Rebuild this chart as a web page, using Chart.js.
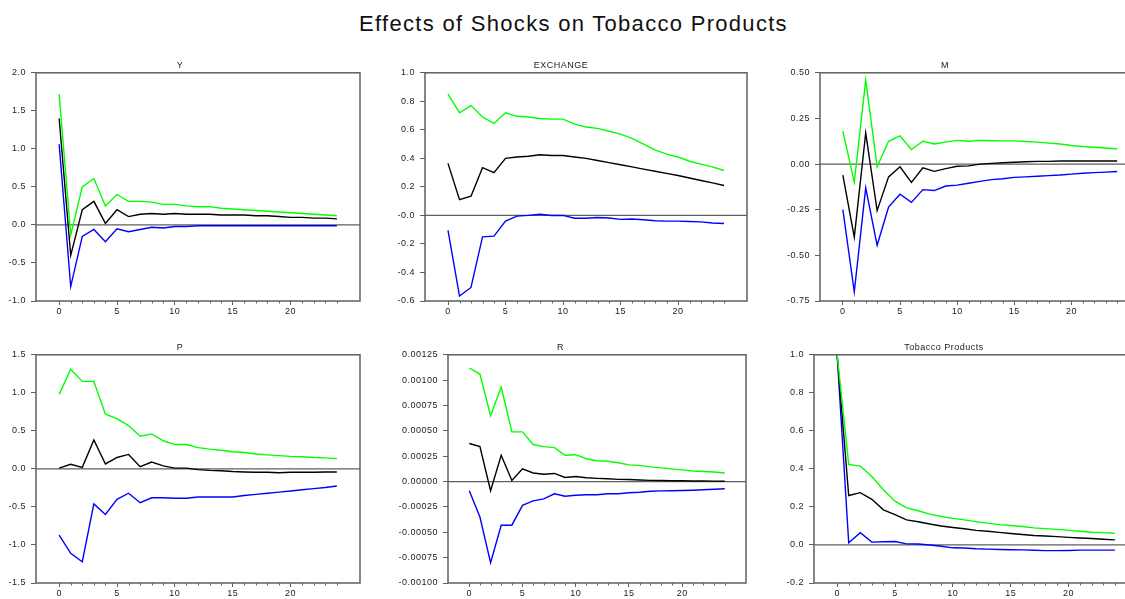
<!DOCTYPE html>
<html lang="en">
<head>
<meta charset="UTF-8">
<title>Effects of Shocks on Tobacco Products</title>
<script src="https://cdn.jsdelivr.net/npm/chart.js"></script>
<style>
  body { margin: 0; width: 1125px; height: 599px; overflow: hidden; background: #fff; position: relative; font-family: "Liberation Sans", Arial, sans-serif; }
  #title { position: absolute; left: 11px; width: 1125px; top: 13px; line-height: 22px; text-align: center; font-size: 22px; letter-spacing: 1.3px; color: #111; }
  canvas { position: absolute; }
</style>
</head>
<body>
<div id="title">Effects of Shocks on Tobacco Products</div>
<canvas id="c0"></canvas>
<canvas id="c1"></canvas>
<canvas id="c2"></canvas>
<canvas id="c3"></canvas>
<canvas id="c4"></canvas>
<canvas id="c5"></canvas>
<script>
// horizon (steps after the shock)
const periods = [0,1,2,3,4,5,6,7,8,9,10,11,12,13,14,15,16,17,18,19,20,21,22,23,24];
const xTicks = [0, 5, 10, 15, 20];

// Y
const yUpper = [1.72,-0.13,0.50,0.61,0.25,0.40,0.31,0.31,0.30,0.27,0.27,0.25,0.24,0.24,0.22,0.21,0.20,0.19,0.18,0.17,0.16,0.15,0.14,0.13,0.12];
const yResp  = [1.40,-0.40,0.20,0.31,0.02,0.20,0.11,0.14,0.15,0.14,0.15,0.14,0.14,0.14,0.13,0.13,0.13,0.12,0.12,0.11,0.10,0.10,0.09,0.09,0.08];
const yLower = [1.06,-0.81,-0.15,-0.06,-0.22,-0.05,-0.09,-0.06,-0.03,-0.04,-0.02,-0.02,-0.01,-0.01,-0.01,-0.01,-0.01,-0.01,-0.01,-0.01,-0.01,-0.01,-0.01,-0.01,-0.01];
const yTicksY  = [-1, -0.5, 0, 0.5, 1, 1.5, 2];
const yLabelsY = ['-1.0','-0.5','0.0','0.5','1.0','1.5','2.0'];

// EXCHANGE
const exUpper = [0.85,0.72,0.77,0.69,0.645,0.72,0.695,0.69,0.68,0.675,0.675,0.64,0.62,0.61,0.59,0.57,0.54,0.50,0.46,0.43,0.41,0.38,0.36,0.34,0.315];
const exResp  = [0.365,0.11,0.135,0.335,0.30,0.40,0.41,0.415,0.425,0.42,0.42,0.41,0.40,0.385,0.37,0.355,0.34,0.325,0.31,0.295,0.28,0.262,0.245,0.228,0.21];
const exLower = [-0.105,-0.565,-0.505,-0.15,-0.145,-0.04,-0.005,0.0,0.008,0.0,0.0,-0.02,-0.02,-0.015,-0.018,-0.028,-0.025,-0.03,-0.037,-0.04,-0.04,-0.043,-0.045,-0.053,-0.057];
const yTicksEx  = [-0.6, -0.4, -0.2, 0, 0.2, 0.4, 0.6, 0.8, 1.0];
const yLabelsEx = ['-0.6','-0.4','-0.2','-0.0','0.2','0.4','0.6','0.8','1.0'];

// M
const mUpper = [0.18,-0.10,0.46,-0.015,0.125,0.155,0.08,0.125,0.11,0.12,0.13,0.125,0.13,0.128,0.127,0.127,0.124,0.12,0.115,0.11,0.102,0.096,0.092,0.088,0.083];
const mResp  = [-0.06,-0.40,0.17,-0.255,-0.07,-0.015,-0.10,-0.02,-0.04,-0.025,-0.012,-0.01,0.0,0.004,0.007,0.01,0.013,0.015,0.015,0.017,0.017,0.017,0.017,0.017,0.017];
const mLower = [-0.25,-0.70,-0.13,-0.445,-0.235,-0.165,-0.21,-0.14,-0.145,-0.12,-0.115,-0.105,-0.095,-0.085,-0.08,-0.073,-0.07,-0.067,-0.063,-0.06,-0.055,-0.05,-0.047,-0.044,-0.041];
const yTicksM  = [-0.75, -0.5, -0.25, 0, 0.25, 0.5];
const yLabelsM = ['-0.75','-0.50','-0.25','0.00','0.25','0.50'];

// P
const pUpper = [0.98,1.31,1.15,1.15,0.72,0.66,0.57,0.43,0.46,0.37,0.32,0.32,0.28,0.26,0.245,0.225,0.215,0.195,0.185,0.175,0.165,0.16,0.15,0.145,0.135];
const pResp  = [0.01,0.06,0.02,0.38,0.065,0.15,0.19,0.03,0.09,0.04,0.01,0.01,-0.01,-0.02,-0.025,-0.035,-0.04,-0.045,-0.045,-0.05,-0.045,-0.045,-0.045,-0.04,-0.04];
const pLower = [-0.87,-1.11,-1.22,-0.46,-0.60,-0.40,-0.32,-0.445,-0.38,-0.38,-0.385,-0.385,-0.37,-0.37,-0.37,-0.37,-0.35,-0.335,-0.32,-0.305,-0.29,-0.275,-0.26,-0.245,-0.225];
const yTicksP  = [-1.5, -1, -0.5, 0, 0.5, 1, 1.5];
const yLabelsP = ['-1.5','-1.0','-0.5','0.0','0.5','1.0','1.5'];

// R
const rUpper = [0.00112,0.00106,0.00065,0.00093,0.00049,0.00049,0.000365,0.000345,0.000335,0.00026,0.000265,0.000225,0.000205,0.0002,0.000185,0.000165,0.00016,0.000145,0.000135,0.000125,0.000115,0.000105,0.0001,0.000095,0.000085];
const rResp  = [0.000375,0.000345,-0.00009,0.00026,0.00001,0.000125,0.000085,0.000072,0.00008,0.00004,0.00005,0.000038,0.000032,0.000028,0.000022,0.00002,0.000016,0.000012,0.00001,0.000008,0.000008,0.000006,0.000005,0.000004,0.000003];
const rLower = [-0.00009,-0.00035,-0.0008,-0.00043,-0.00043,-0.000235,-0.00019,-0.00017,-0.00012,-0.000145,-0.000135,-0.00013,-0.00013,-0.00012,-0.00012,-0.00011,-0.000105,-0.000095,-0.000092,-0.00009,-0.000088,-0.000085,-0.00008,-0.000075,-0.00007];
const yTicksR  = [-0.001, -0.00075, -0.0005, -0.00025, 0, 0.00025, 0.0005, 0.00075, 0.001, 0.00125];
const yLabelsR = ['-0.00100','-0.00075','-0.00050','-0.00025','0.00000','0.00025','0.00050','0.00075','0.00100','0.00125'];

// Tobacco Products
const tobUpper = [1.0,0.424,0.415,0.36,0.29,0.23,0.195,0.18,0.162,0.15,0.14,0.132,0.123,0.115,0.107,0.102,0.097,0.09,0.086,0.082,0.077,0.072,0.067,0.065,0.062];
const tobResp  = [1.0,0.26,0.275,0.24,0.185,0.16,0.132,0.122,0.11,0.10,0.092,0.085,0.077,0.072,0.066,0.06,0.055,0.05,0.047,0.044,0.04,0.037,0.034,0.03,0.027];
const tobLower = [1.0,0.012,0.065,0.015,0.017,0.018,0.006,0.005,0.0,-0.007,-0.015,-0.016,-0.02,-0.022,-0.024,-0.025,-0.026,-0.028,-0.03,-0.03,-0.029,-0.027,-0.027,-0.027,-0.027];
const yTicksTob  = [-0.2, 0, 0.2, 0.4, 0.6, 0.8, 1.0];
const yLabelsTob = ['-0.2','0.0','0.2','0.4','0.6','0.8','1.0'];

const panels = [
  { name: 'Y', upper: yUpper, resp: yResp, lower: yLower, ticks: yTicksY, labels: yLabelsY },
  { name: 'EXCHANGE', upper: exUpper, resp: exResp, lower: exLower, ticks: yTicksEx, labels: yLabelsEx },
  { name: 'M', upper: mUpper, resp: mResp, lower: mLower, ticks: yTicksM, labels: yLabelsM },
  { name: 'P', upper: pUpper, resp: pResp, lower: pLower, ticks: yTicksP, labels: yLabelsP },
  { name: 'R', upper: rUpper, resp: rResp, lower: rLower, ticks: yTicksR, labels: yLabelsR },
  { name: 'Tobacco Products', upper: tobUpper, resp: tobResp, lower: tobLower, ticks: yTicksTob, labels: yLabelsTob }
];

// where each canvas sits on the page
const boxes = [
  { left: 0,   top: 58,  w: 375, h: 263, axisW: 36, padR: 15, xh: 20 },
  { left: 375, top: 58,  w: 375, h: 263, axisW: 50, padR: 3,  xh: 20 },
  { left: 750, top: 58,  w: 395, h: 263, axisW: 70, padR: 5,  xh: 20 },
  { left: 0,   top: 340, w: 375, h: 259, axisW: 36, padR: 15, xh: 16 },
  { left: 375, top: 340, w: 375, h: 259, axisW: 73, padR: 4,  xh: 16 },
  { left: 750, top: 340, w: 395, h: 259, axisW: 64, padR: 7,  xh: 16 }
];

const frameColor = '#5f5f5f';
const textColor = '#222';
const family = '"Liberation Sans", Arial, sans-serif';

// box round the plot, zero line and the small unlabelled ticks
const framePlugin = {
  id: 'frame',
  beforeDraw(chart) { chart.ctx.letterSpacing = '0.5px'; },
  beforeDatasetsDraw(chart) {
    const { ctx, chartArea: a, scales } = chart;
    const y0 = scales.y.getPixelForValue(0);
    ctx.save();
    ctx.strokeStyle = frameColor;
    ctx.lineWidth = 1.3;
    ctx.beginPath();
    ctx.moveTo(a.left, y0);
    ctx.lineTo(a.right, y0);
    ctx.stroke();
    ctx.restore();
  },
  afterDraw(chart) {
    const { ctx, chartArea: a, scales } = chart;
    ctx.save();
    ctx.strokeStyle = frameColor;
    ctx.lineWidth = 1.5;
    ctx.strokeRect(a.left, a.top, a.right - a.left, a.bottom - a.top);
    ctx.lineWidth = 1;
    ctx.beginPath();
    periods.forEach(p => {
      if (p % 5 !== 0) {
        const x = Math.round(scales.x.getPixelForValue(p)) + 0.5;
        ctx.moveTo(x, a.bottom);
        ctx.lineTo(x, a.bottom + 2.5);
      }
    });
    ctx.stroke();
    ctx.restore();
  }
};

function series(values) {
  return periods.map((p, i) => ({ x: p, y: values[i] }));
}

panels.forEach((pn, k) => {
  const b = boxes[k];
  const canvas = document.getElementById('c' + k);
  canvas.width = b.w;
  canvas.height = b.h;
  canvas.style.left = b.left + 'px';
  canvas.style.top = b.top + 'px';

  new Chart(canvas, {
    type: 'line',
    data: {
      datasets: [
        { data: series(pn.upper), borderColor: '#00ff00' },
        { data: series(pn.resp), borderColor: '#000000' },
        { data: series(pn.lower), borderColor: '#0000ff' }
      ]
    },
    options: {
      responsive: false,
      animation: false,
      layout: { padding: { top: 1, right: b.padR, bottom: 0, left: 0 } },
      elements: { point: { radius: 0 }, line: { borderWidth: 1.4, tension: 0 } },
      plugins: {
        legend: { display: false },
        tooltip: { enabled: false },
        title: { display: true, text: pn.name, color: textColor, font: { family, size: 9, weight: 'normal' }, padding: { top: 1, bottom: 2 } }
      },
      scales: {
        x: {
          type: 'linear', min: -2, max: 26,
          afterBuildTicks: s => { s.ticks = xTicks.map(v => ({ value: v })); },
          afterFit: s => { s.height = b.xh; },
          border: { display: false },
          grid: { drawOnChartArea: false, tickLength: 4, tickColor: frameColor, tickWidth: 1 },
          ticks: { color: textColor, font: { family, size: 9 }, padding: 1, maxRotation: 0, autoSkip: false, callback: v => String(v) }
        },
        y: {
          min: pn.ticks[0], max: pn.ticks[pn.ticks.length - 1],
          afterBuildTicks: s => { s.ticks = pn.ticks.map(v => ({ value: v })); },
          afterFit: s => { s.width = b.axisW; },
          border: { display: false },
          grid: { drawOnChartArea: false, tickLength: 5, tickColor: frameColor, tickWidth: 1 },
          ticks: { color: textColor, font: { family, size: 9 }, padding: 5, autoSkip: false, callback: (v, i) => pn.labels[i] }
        }
      }
    },
    plugins: [framePlugin]
  });
});
</script>
</body>
</html>
